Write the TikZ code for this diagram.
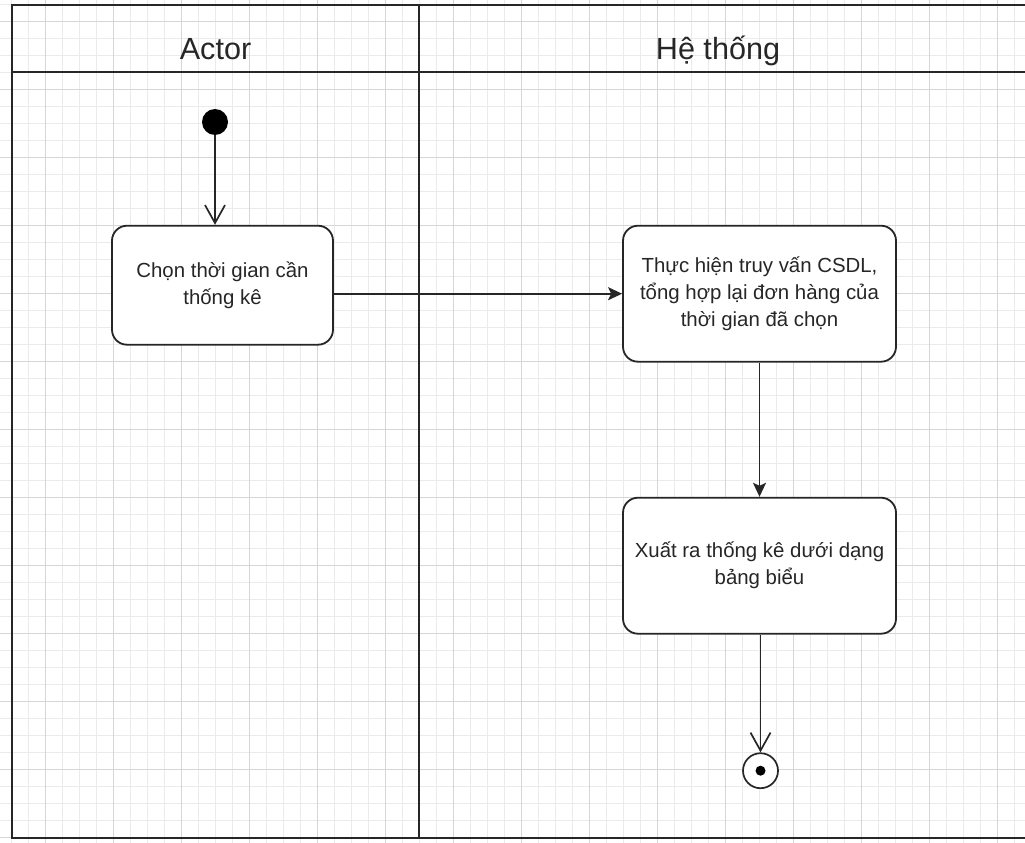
\documentclass[tikz,border=0pt]{standalone}
\usepackage{fontspec}
\setmainfont{Liberation Sans}
\usetikzlibrary{arrows.meta, calc, positioning}

\begin{document}
\begin{tikzpicture}[
    x=1pt, y=-1pt,
    font=\fontsize{20.4}{27}\selectfont,
    gridminor/.style={line width=0.8pt, black!8},
    gridmajor/.style={line width=0.8pt, black!16},
    lane/.style={draw=black!85, line width=2pt},
    lanetitle/.style={font=\fontsize{30.6}{36}\selectfont,
                      text=black!85, anchor=base, inner sep=0pt},
    action/.style={draw=black!85, line width=1.8pt, rounded corners=15pt,
                   fill=white, align=center, text=black!85,
                   minimum width=273pt, minimum height=136pt, inner sep=0pt},
    startnode/.style={circle, fill=black, minimum size=26pt, inner sep=0pt},
    endnode/.style={circle, draw=black!85, line width=1.7pt, fill=white,
                    minimum size=35pt, inner sep=0pt},
    enddot/.style={circle, fill=black, minimum size=10pt, inner sep=0pt},
    flow/.style={draw=black!85, line width=1.7pt,
                 -{Stealth[length=14pt, width=13pt, inset=3pt]}},
    openflow/.style={draw=black!85, line width=1.7pt,
                     -{Straight Barb[length=18pt, width=20pt]}},
]
\useasboundingbox (0,0) rectangle (1025,843);
\clip (0,0) rectangle (1025,843);

% ---------------- Background grid -----------------------------------------
\foreach \gx in {11,28,...,1025} {%
    \draw[gridminor] (\gx,0) -- (\gx,843);
}
\foreach \gy in {4.7,21.7,...,843} {%
    \draw[gridminor] (0,\gy) -- (1025,\gy);
}
\foreach \gx in {45,113,...,1025} {%
    \draw[gridmajor] (\gx,0) -- (\gx,843);
}
\foreach \gy in {21.7,89.7,...,843} {%
    \draw[gridmajor] (0,\gy) -- (1025,\gy);
}

% ---------------- Swimlanes -----------------------------------------------
\draw[lane] (1030,5) -- (12,5) -- (12,838) -- (1030,838);
\draw[lane] (12,72) -- (1030,72);
\draw[lane] (419,5) -- (419,838);

\node[lanetitle] (actortitle)  at (215.5,59.3) {Actor};
\node[lanetitle] (systemtitle) at (718,59.3)   {Hệ thống};

% ---------------- Actor lane ----------------------------------------------
\node[startnode] (start) at (215,122) {};
\node[action, minimum width=221pt, minimum height=119pt]
    (choose) at (222.5,285.2) {Chọn thời gian cần\\thống kê};

% ---------------- System lane ---------------------------------------------
\node[action] (query)  at (759.5,293.7)
    {Thực hiện truy vấn CSDL,\\tổng hợp lại đơn hàng của\\thời gian đã chọn};
\node[action] (export) at (759.5,565.7)
    {Xuất ra thống kê dưới dạng\\bảng biểu};

\node[endnode] (finish)    at (760.5,770.7) {};
\node[enddot]  (finishdot) at (finish)      {};

% ---------------- Connectors ----------------------------------------------
\draw[openflow] (start) -- (start |- choose.north);
\draw[flow]     (choose.east |- query) -- (query.west);
\draw[flow]     (query.south) -- (export.north);
\draw[openflow] (export.south -| finish) -- (finish.north);

\end{tikzpicture}
\end{document}
